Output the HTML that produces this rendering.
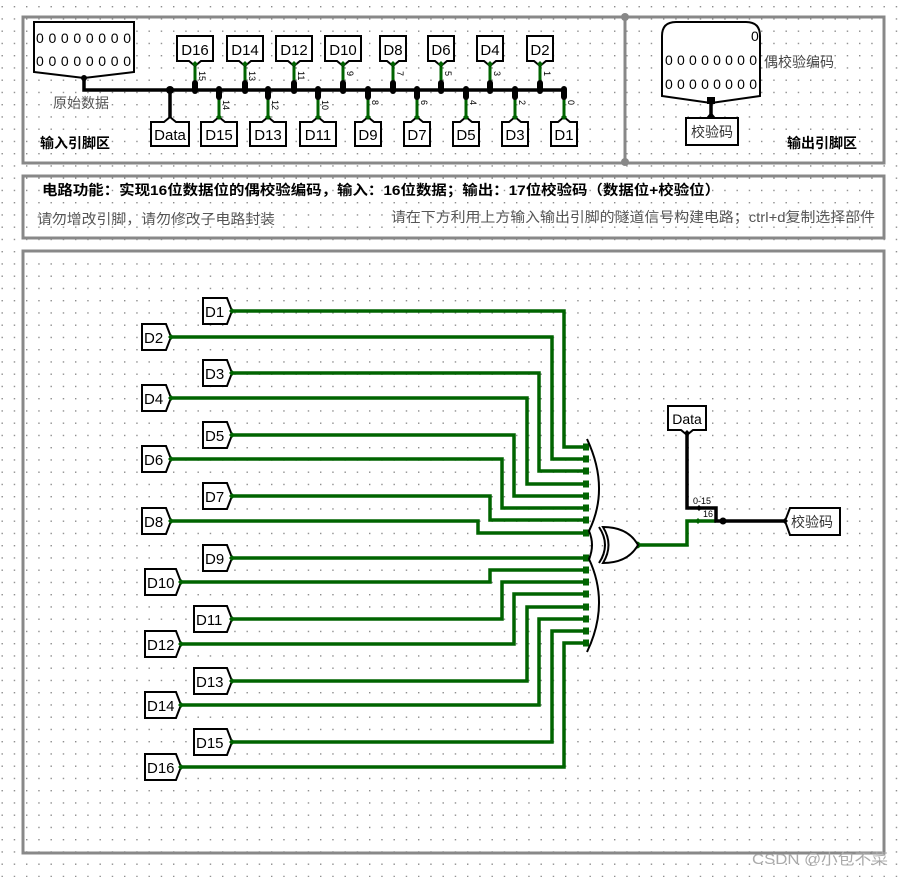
<!DOCTYPE html>
<html><head><meta charset="utf-8"><style>
html,body{margin:0;padding:0;background:#fff;}
svg{display:block;}
text{font-family:"Liberation Sans","Noto Sans CJK SC",sans-serif;}
</style></head><body>
<svg width="905" height="877" viewBox="0 0 905 877" xmlns="http://www.w3.org/2000/svg">
<defs>
<pattern id="g" x="1.5" y="6" width="12.25" height="12.25" patternUnits="userSpaceOnUse">
<rect x="0" y="0" width="1.4" height="1.4" fill="#8a8a8a"/>
</pattern>
</defs>
<rect x="0" y="0" width="905" height="877" fill="url(#g)"/>
<g fill="none" stroke="#888" stroke-width="3">
<rect x="23" y="17" width="861" height="146"/>
<line x1="625" y1="17" x2="625" y2="163"/>
<rect x="23" y="176" width="861" height="62"/>
<rect x="23" y="251" width="861" height="602"/>
</g>
<circle cx="625" cy="17" r="4" fill="#888"/>
<circle cx="625" cy="162" r="4" fill="#888"/>

<g stroke="#000" stroke-width="2" fill="#fff">
<path d="M34,22 H134 V72 L84,78 L34,72 Z"/>
</g>
<text x="36" y="43" font-size="14" textLength="95" lengthAdjust="spacing">00000000</text>
<text x="36" y="66" font-size="14" textLength="95" lengthAdjust="spacing">00000000</text>
<text x="53" y="108" font-size="14" fill="#555">原始数据</text>
<text x="40" y="148" font-size="14" font-weight="bold">输入引脚区</text>
<g stroke="#000" stroke-width="3.5" fill="none">
<path d="M84,78 V90 H563"/>
<line x1="170" y1="90" x2="170" y2="118"/>
</g>
<circle cx="84" cy="78" r="3" fill="#000"/>
<circle cx="170" cy="90" r="4" fill="#000"/>

<g stroke="#006400" stroke-width="3">
<line x1="195" y1="64" x2="195" y2="88"/><line x1="245" y1="64" x2="245" y2="88"/>
<line x1="294" y1="64" x2="294" y2="88"/><line x1="343" y1="64" x2="343" y2="88"/>
<line x1="393" y1="64" x2="393" y2="88"/><line x1="441" y1="64" x2="441" y2="88"/>
<line x1="490" y1="64" x2="490" y2="88"/><line x1="540" y1="64" x2="540" y2="88"/>
<line x1="219" y1="92" x2="219" y2="118"/><line x1="268" y1="92" x2="268" y2="118"/>
<line x1="318" y1="92" x2="318" y2="118"/><line x1="368" y1="92" x2="368" y2="118"/>
<line x1="417" y1="92" x2="417" y2="118"/><line x1="466" y1="92" x2="466" y2="118"/>
<line x1="515" y1="92" x2="515" y2="118"/><line x1="564" y1="92" x2="564" y2="118"/>
</g>
<g fill="#000">
<rect x="192" y="80" width="6" height="14" rx="3"/><rect x="242" y="80" width="6" height="14" rx="3"/>
<rect x="291" y="80" width="6" height="14" rx="3"/><rect x="340" y="80" width="6" height="14" rx="3"/>
<rect x="390" y="80" width="6" height="14" rx="3"/><rect x="438" y="80" width="6" height="14" rx="3"/>
<rect x="487" y="80" width="6" height="14" rx="3"/><rect x="537" y="80" width="6" height="14" rx="3"/>
<rect x="216" y="86" width="6" height="14" rx="3"/><rect x="265" y="86" width="6" height="14" rx="3"/>
<rect x="315" y="86" width="6" height="14" rx="3"/><rect x="365" y="86" width="6" height="14" rx="3"/>
<rect x="414" y="86" width="6" height="14" rx="3"/><rect x="463" y="86" width="6" height="14" rx="3"/>
<rect x="512" y="86" width="6" height="14" rx="3"/><rect x="561" y="86" width="6" height="14" rx="3"/>
</g>
<g stroke="#000" stroke-width="2" fill="#fff">
<path d="M177,36 H213 V61 L201,61 L195,66 L189,61 L177,61 Z"/>
<path d="M227,36 H263 V61 L251,61 L245,66 L239,61 L227,61 Z"/>
<path d="M276,36 H312 V61 L300,61 L294,66 L288,61 L276,61 Z"/>
<path d="M325,36 H361 V61 L349,61 L343,66 L337,61 L325,61 Z"/>
<path d="M380,36 H406 V61 L399,61 L393,66 L387,61 L380,61 Z"/>
<path d="M428,36 H454 V61 L447,61 L441,66 L435,61 L428,61 Z"/>
<path d="M477,36 H503 V61 L496,61 L490,66 L484,61 L477,61 Z"/>
<path d="M527,36 H553 V61 L546,61 L540,66 L534,61 L527,61 Z"/>
<path d="M151,122 L164,122 L170,117 L176,122 L189,122 V146 H151 Z"/>
<path d="M201,122 L213,122 L219,117 L225,122 L237,122 V146 H201 Z"/>
<path d="M250,122 L262,122 L268,117 L274,122 L286,122 V146 H250 Z"/>
<path d="M300,122 L312,122 L318,117 L324,122 L336,122 V146 H300 Z"/>
<path d="M355,122 L362,122 L368,117 L374,122 L381,122 V146 H355 Z"/>
<path d="M404,122 L411,122 L417,117 L423,122 L430,122 V146 H404 Z"/>
<path d="M453,122 L460,122 L466,117 L472,122 L479,122 V146 H453 Z"/>
<path d="M502,122 L509,122 L515,117 L521,122 L528,122 V146 H502 Z"/>
<path d="M551,122 L558,122 L564,117 L570,122 L577,122 V146 H551 Z"/>
</g>
<g fill="#006400">
<path d="M195,61 l3,3 l-3,3 l-3,-3z"/><path d="M245,61 l3,3 l-3,3 l-3,-3z"/><path d="M294,61 l3,3 l-3,3 l-3,-3z"/><path d="M343,61 l3,3 l-3,3 l-3,-3z"/>
<path d="M393,61 l3,3 l-3,3 l-3,-3z"/><path d="M441,61 l3,3 l-3,3 l-3,-3z"/><path d="M490,61 l3,3 l-3,3 l-3,-3z"/><path d="M540,61 l3,3 l-3,3 l-3,-3z"/>
<path d="M219,114 l3,3 l-3,3 l-3,-3z"/><path d="M268,114 l3,3 l-3,3 l-3,-3z"/><path d="M318,114 l3,3 l-3,3 l-3,-3z"/><path d="M368,114 l3,3 l-3,3 l-3,-3z"/>
<path d="M417,114 l3,3 l-3,3 l-3,-3z"/><path d="M466,114 l3,3 l-3,3 l-3,-3z"/><path d="M515,114 l3,3 l-3,3 l-3,-3z"/><path d="M564,114 l3,3 l-3,3 l-3,-3z"/>
</g>
<g font-size="15" text-anchor="middle">
<text x="195" y="55">D16</text><text x="245" y="55">D14</text><text x="294" y="55">D12</text><text x="343" y="55">D10</text>
<text x="393" y="55">D8</text><text x="441" y="55">D6</text><text x="490" y="55">D4</text><text x="540" y="55">D2</text>
<text x="170" y="140">Data</text><text x="219" y="140">D15</text><text x="268" y="140">D13</text><text x="318" y="140">D11</text>
<text x="368" y="140">D9</text><text x="417" y="140">D7</text><text x="466" y="140">D5</text><text x="515" y="140">D3</text><text x="564" y="140">D1</text>
</g>
<g font-size="9">
<text transform="translate(199,71) rotate(90)">15</text><text transform="translate(249,71) rotate(90)">13</text>
<text transform="translate(298,71) rotate(90)">11</text><text transform="translate(347,71) rotate(90)">9</text>
<text transform="translate(397,71) rotate(90)">7</text><text transform="translate(445,71) rotate(90)">5</text>
<text transform="translate(494,71) rotate(90)">3</text><text transform="translate(544,71) rotate(90)">1</text>
<text transform="translate(223,100) rotate(90)">14</text><text transform="translate(272,100) rotate(90)">12</text>
<text transform="translate(322,100) rotate(90)">10</text><text transform="translate(372,100) rotate(90)">8</text>
<text transform="translate(421,100) rotate(90)">6</text><text transform="translate(470,100) rotate(90)">4</text>
<text transform="translate(519,100) rotate(90)">2</text><text transform="translate(568,100) rotate(90)">0</text>
</g>

<path d="M662,96 V36 Q662,22 676,22 H746 Q760,22 760,36 V96 L711,103 Z" fill="#fff" stroke="#000" stroke-width="2"/>
<text x="751" y="41" font-size="14">0</text>
<text x="665" y="65" font-size="14" textLength="92" lengthAdjust="spacing">00000000</text>
<text x="665" y="89" font-size="14" textLength="92" lengthAdjust="spacing">00000000</text>
<text x="764" y="67" font-size="14" fill="#444">偶校验编码</text>
<line x1="711" y1="100" x2="711" y2="118" stroke="#000" stroke-width="3.5"/>
<rect x="707" y="97" width="8" height="7" fill="#000"/>
<path d="M706,118 L711,112 L716,118" fill="#000"/>
<rect x="686" y="118" width="52" height="27" fill="#fff" stroke="#000" stroke-width="2"/>
<text x="712" y="137" font-size="14" text-anchor="middle" fill="#333">校验码</text>
<text x="787" y="148" font-size="14" font-weight="bold">输出引脚区</text>

<text x="42" y="195" font-size="14" font-weight="bold" textLength="678" lengthAdjust="spacingAndGlyphs">电路功能：实现16位数据位的偶校验编码，输入：16位数据；输出：17位校验码（数据位+校验位）</text>
<text x="37" y="224" font-size="14" fill="#555" textLength="238" lengthAdjust="spacingAndGlyphs">请勿增改引脚，请勿修改子电路封装</text>
<text x="391" y="222" font-size="14" fill="#555" textLength="484" lengthAdjust="spacingAndGlyphs">请在下方利用上方输入输出引脚的隧道信号构建电路；ctrl+d复制选择部件</text>

<g fill="none" stroke="#006400" stroke-width="3.5" stroke-linejoin="miter">
<path d="M232,311 H564 V447 H588"/>
<path d="M171,337 H552 V459 H588"/>
<path d="M232,373 H539 V471 H588"/>
<path d="M171,398 H527 V484 H588"/>
<path d="M232,435 H514 V496 H588"/>
<path d="M171,459 H502 V508 H588"/>
<path d="M232,496 H490 V520 H588"/>
<path d="M171,521 H478 V533 H588"/>
<path d="M232,558 H588"/>
<path d="M181,582 H490 V570 H588"/>
<path d="M232,619 H502 V582 H588"/>
<path d="M181,644 H514 V594 H588"/>
<path d="M232,681 H527 V607 H588"/>
<path d="M181,705 H539 V619 H588"/>
<path d="M232,742 H552 V631 H588"/>
<path d="M181,767 H564 V643 H588"/>
<path d="M637,545 H687 V521 H716"/>
</g>
<g fill="#006400">
<rect x="583" y="443.5" width="6" height="7"/><rect x="583" y="455.5" width="6" height="7"/><rect x="583" y="467.5" width="6" height="7"/><rect x="583" y="480.5" width="6" height="7"/>
<rect x="583" y="492.5" width="6" height="7"/><rect x="583" y="504.5" width="6" height="7"/><rect x="583" y="516.5" width="6" height="7"/><rect x="583" y="529.5" width="6" height="7"/>
<rect x="583" y="554.5" width="6" height="7"/><rect x="583" y="566.5" width="6" height="7"/><rect x="583" y="578.5" width="6" height="7"/><rect x="583" y="590.5" width="6" height="7"/>
<rect x="583" y="603.5" width="6" height="7"/><rect x="583" y="615.5" width="6" height="7"/><rect x="583" y="627.5" width="6" height="7"/><rect x="583" y="639.5" width="6" height="7"/>
<circle cx="637" cy="545" r="3.5"/>
<path d="M698,518 l3,3 l-3,3 l-3,-3z"/>
</g>

<g fill="none" stroke="#000" stroke-width="2">
<path d="M587,439 Q610,488 589,531 Q595,545 589,559 Q610,604 587,652"/>
<path d="M599,527 Q611,545 599,563"/>
<path d="M603,527 Q628,527 638,545 Q628,563 603,563 Q614,545 603,527 Z" fill="#fff"/>
</g>

<g stroke="#000" stroke-width="2" fill="#fff">
<path d="M203,298 H227 L232,311 L227,324 H203 Z"/>
<path d="M203,360 H227 L232,373 L227,386 H203 Z"/>
<path d="M203,422 H227 L232,435 L227,448 H203 Z"/>
<path d="M203,483 H227 L232,496 L227,509 H203 Z"/>
<path d="M203,545 H227 L232,558 L227,571 H203 Z"/>
<path d="M194,606 H227 L232,619 L227,632 H194 Z"/>
<path d="M194,668 H227 L232,681 L227,694 H194 Z"/>
<path d="M194,729 H227 L232,742 L227,755 H194 Z"/>
<path d="M142,324 H166 L171,337 L166,350 H142 Z"/>
<path d="M142,385 H166 L171,398 L166,411 H142 Z"/>
<path d="M142,446 H166 L171,459 L166,472 H142 Z"/>
<path d="M142,508 H166 L171,521 L166,534 H142 Z"/>
<path d="M145,569 H176 L181,582 L176,595 H145 Z"/>
<path d="M145,631 H176 L181,644 L176,657 H145 Z"/>
<path d="M145,692 H176 L181,705 L176,718 H145 Z"/>
<path d="M145,754 H176 L181,767 L176,780 H145 Z"/>
</g>
<g fill="#006400">
<path d="M232,308 l3,3 l-3,3 l-3,-3z"/><path d="M232,370 l3,3 l-3,3 l-3,-3z"/><path d="M232,432 l3,3 l-3,3 l-3,-3z"/><path d="M232,493 l3,3 l-3,3 l-3,-3z"/>
<path d="M232,555 l3,3 l-3,3 l-3,-3z"/><path d="M232,616 l3,3 l-3,3 l-3,-3z"/><path d="M232,678 l3,3 l-3,3 l-3,-3z"/><path d="M232,739 l3,3 l-3,3 l-3,-3z"/>
<path d="M171,334 l3,3 l-3,3 l-3,-3z"/><path d="M171,395 l3,3 l-3,3 l-3,-3z"/><path d="M171,456 l3,3 l-3,3 l-3,-3z"/><path d="M171,518 l3,3 l-3,3 l-3,-3z"/>
<path d="M181,579 l3,3 l-3,3 l-3,-3z"/><path d="M181,641 l3,3 l-3,3 l-3,-3z"/><path d="M181,702 l3,3 l-3,3 l-3,-3z"/><path d="M181,764 l3,3 l-3,3 l-3,-3z"/>
</g>
<g font-size="15">
<text x="205" y="317">D1</text><text x="205" y="379">D3</text><text x="205" y="441">D5</text><text x="205" y="502">D7</text>
<text x="205" y="564">D9</text><text x="196" y="625">D11</text><text x="196" y="687">D13</text><text x="196" y="748">D15</text>
<text x="144" y="343">D2</text><text x="144" y="404">D4</text><text x="144" y="465">D6</text><text x="144" y="527">D8</text>
<text x="147" y="588">D10</text><text x="147" y="650">D12</text><text x="147" y="711">D14</text><text x="147" y="773">D16</text>
</g>

<path d="M668,406 H706 V430 L693,430 L687,435 L681,430 L668,430 Z" fill="#fff" stroke="#000" stroke-width="2"/>
<text x="687" y="424" font-size="14" text-anchor="middle">Data</text>
<path d="M687,434 V508 H716 V521 H723 M723,521 H786" fill="none" stroke="#000" stroke-width="3.5"/>
<path d="M687,430 l3,3 l-3,3 l-3,-3z" fill="#000"/>
<path d="M699,505 l3,3 l-3,3 l-3,-3z" fill="#000"/>
<circle cx="723" cy="521" r="3.5" fill="#000"/>
<text x="693" y="504" font-size="9">0-15</text>
<text x="703" y="517" font-size="9">16</text>
<path d="M790,508 H840 V535 H790 L785,521 Z" fill="#fff" stroke="#000" stroke-width="2"/>
<path d="M785,518 l3,3 l-3,3 l-3,-3z" fill="#000"/>
<text x="791" y="527" font-size="14" fill="#333">校验码</text>

<text x="752" y="864" font-size="15" fill="#aaa" textLength="136" lengthAdjust="spacingAndGlyphs">CSDN @小包不菜</text>
</svg>
</body></html>
